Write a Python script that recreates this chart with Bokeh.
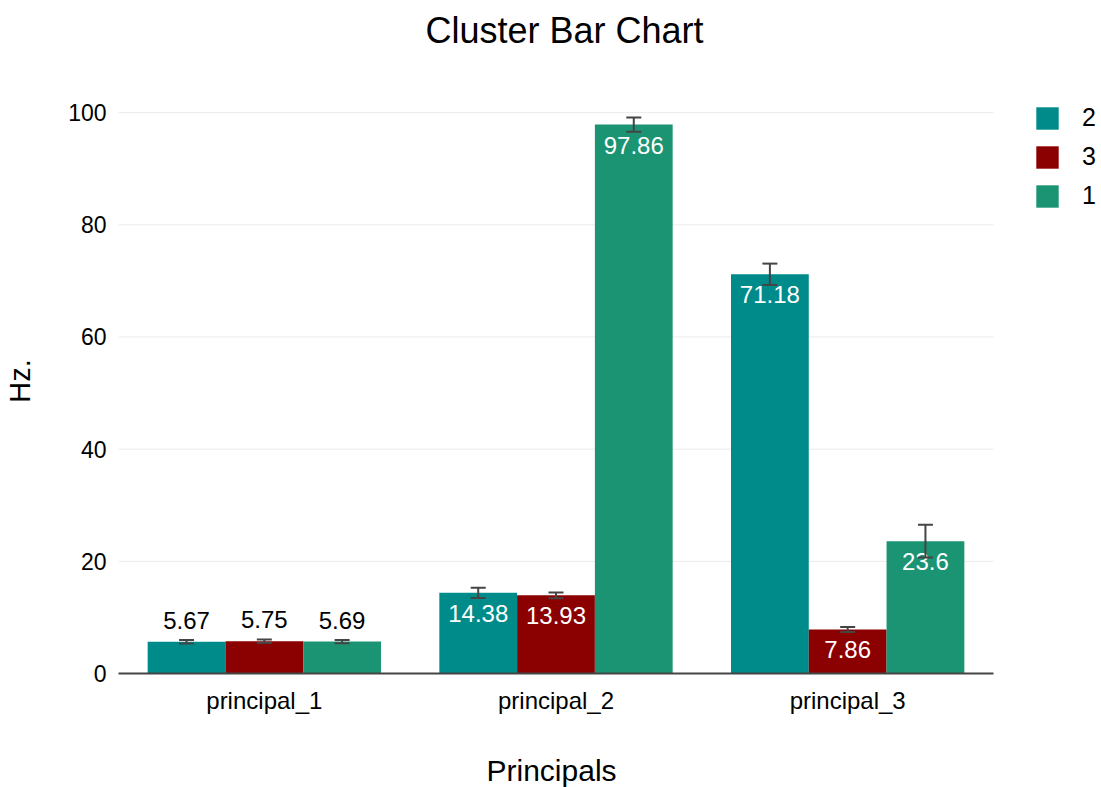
from bokeh.plotting import figure
from bokeh.models import (ColumnDataSource, Range1d, Whisker, TeeHead,
                          LabelSet, Title, Legend, LegendItem, FixedTicker)
from bokeh.core.properties import value
from bokeh.embed import file_html
from bokeh.resources import INLINE

# ---- data ----
categories = ["principal_1", "principal_2", "principal_3"]
series_names = ["2", "3", "1"]
values_2 = [5.67, 14.38, 71.18]
errors_2 = [0.3, 0.9, 1.9]
values_3 = [5.75, 13.93, 7.86]
errors_3 = [0.3, 0.5, 0.45]
values_1 = [5.69, 97.86, 23.6]
errors_1 = [0.3, 1.25, 2.9]
y_ticks = [0, 20, 40, 60, 80, 100]

colors = ["#008b8b", "#8b0000", "#1a9472"]
FONT = "Liberation Sans"

# layout: the plotting frame runs to the right edge so the legend can sit in it;
# the categories themselves occupy the first 875 px of the 983 px frame.
FRAME_W, CAT_W = 983, 875
n = len(categories)
positions = [i + 0.5 for i in range(n)]

p = figure(x_range=Range1d(0, n * FRAME_W / CAT_W),
           y_range=Range1d(0, 104.3),
           frame_width=FRAME_W, frame_height=585,
           output_backend="svg", toolbar_location=None,
           min_border_left=118, min_border_right=0, min_border_top=88,
           min_border_bottom=114)

# horizontal grid lines and the x axis line, limited to the category area
p.segment(x0=[0] * (len(y_ticks) - 1), x1=[n] * (len(y_ticks) - 1),
          y0=y_ticks[1:], y1=y_ticks[1:], line_color="#ebebeb", line_width=1)
p.segment(x0=[0], x1=[n], y0=[y_ticks[0]], y1=[y_ticks[0]],
          line_color="#444444", line_width=2, level="overlay")

group_width = 0.8
bar_w = group_width / 3
series = [(series_names[0], values_2, errors_2),
          (series_names[1], values_3, errors_3),
          (series_names[2], values_1, errors_1)]

legend_items = []
for i, (name, vals, errs) in enumerate(series):
    off = (i - 1) * bar_w
    inside = [v > 6.5 for v in vals]
    src = ColumnDataSource(dict(
        x=[c + off for c in positions],
        val=vals,
        upper=[v + e for v, e in zip(vals, errs)],
        lower=[v - e for v, e in zip(vals, errs)],
        label=[f"{v:g}" for v in vals],
        tcolor=["white" if ins else "black" for ins in inside],
        yoff=[-29 if ins else 13 for ins in inside],
    ))
    r = p.vbar(x="x", top="val", width=bar_w, source=src,
               fill_color=colors[i], line_color=None)
    legend_items.append(LegendItem(label=name, renderers=[r]))

    labels = LabelSet(x="x", y="val", text="label", source=src,
                      text_align="center", text_baseline="alphabetic",
                      y_offset="yoff", text_color="tcolor",
                      text_font=value(FONT), text_font_size=value("24px"),
                      level="annotation")
    p.add_layout(labels)

    w = Whisker(source=src, base="x", upper="upper", lower="lower",
                line_color="#444444", line_width=2,
                upper_head=TeeHead(size=15, line_color="#444444", line_width=2),
                lower_head=TeeHead(size=15, line_color="#444444", line_width=2),
                level="overlay")
    p.add_layout(w)

legend = Legend(items=legend_items, location=(915, 463), orientation="vertical",
                glyph_width=28, glyph_height=28, label_height=22, spacing=10,
                padding=0, margin=0, label_standoff=21,
                label_text_font=FONT, label_text_font_size="25px",
                label_text_color="black",
                border_line_color=None, background_fill_alpha=0)
p.add_layout(legend)

# title: spacer (nearest the frame) then the visible title above it
p.title.text = ""
p.add_layout(Title(text=" ", text_font_size="1px", standoff=35), "above")
p.add_layout(Title(text="Cluster Bar Chart", align="left", offset=307,
                   text_font=FONT, text_font_size="36px",
                   text_font_style="normal", text_color="black", standoff=0),
             "above")

# x axis
p.xaxis.ticker = FixedTicker(ticks=positions)
p.xaxis.major_label_overrides = {pos: cat for pos, cat in zip(positions, categories)}
p.xaxis.axis_line_color = None
p.xaxis.major_tick_line_color = None
p.xaxis.minor_tick_line_color = None
p.xaxis.major_label_text_font = FONT
p.xaxis.major_label_text_font_size = "24px"
p.xaxis.major_label_text_color = "black"
p.xaxis.major_label_standoff = 7

# x axis title, below the axis (spacer then title)
p.add_layout(Title(text=" ", text_font_size="1px", standoff=34), "below")
p.add_layout(Title(text="Principals", align="left", offset=368,
                   vertical_align="top", text_font=FONT, text_font_size="30px",
                   text_font_style="normal", text_color="black", standoff=0),
             "below")

# y axis
p.yaxis.ticker = FixedTicker(ticks=y_ticks)
p.yaxis.axis_line_color = None
p.yaxis.major_tick_line_color = None
p.yaxis.minor_tick_line_color = None
p.yaxis.major_label_text_font = FONT
p.yaxis.major_label_text_font_size = "23px"
p.yaxis.major_label_text_color = "black"
p.yaxis.major_label_standoff = 6
p.yaxis.axis_label = "Hz."
p.yaxis.axis_label_text_font = FONT
p.yaxis.axis_label_text_font_size = "29px"
p.yaxis.axis_label_text_font_style = "normal"
p.yaxis.axis_label_text_color = "black"
p.yaxis.axis_label_standoff = 29

p.xgrid.grid_line_color = None
p.ygrid.grid_line_color = None
p.outline_line_color = None

open("out.html", "w").write(file_html(p, INLINE))
